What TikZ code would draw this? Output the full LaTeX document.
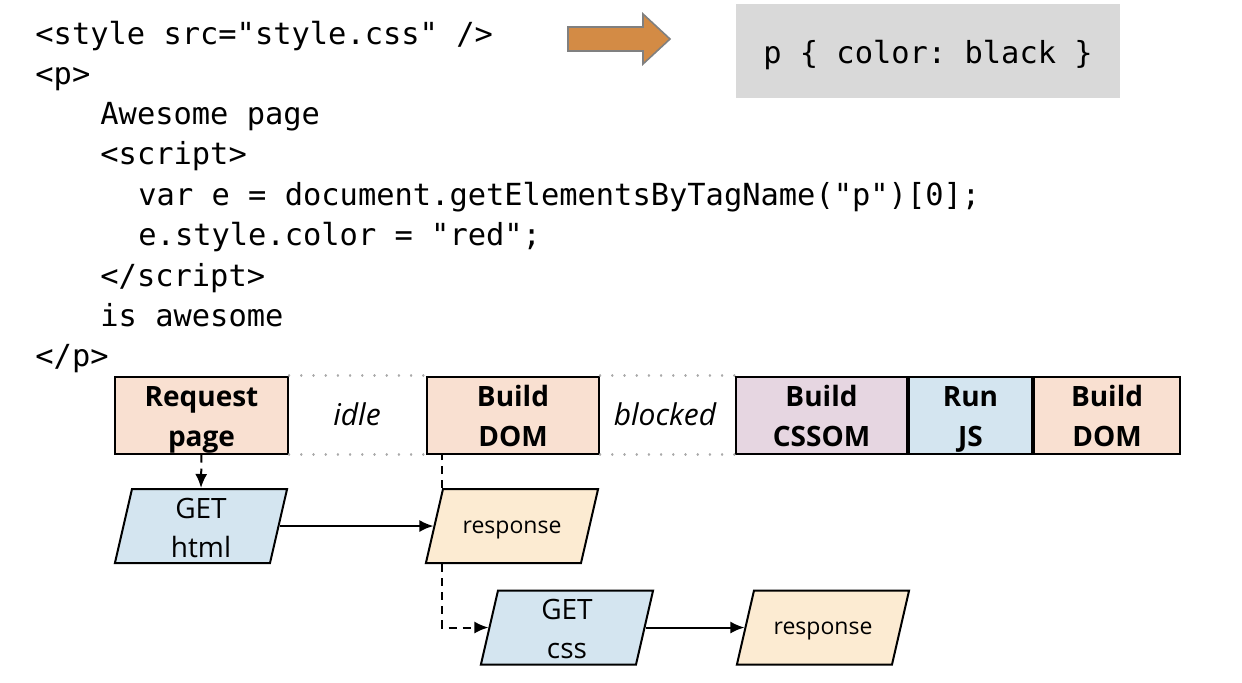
\documentclass[tikz,border=0pt]{standalone}
\usepackage{fontspec}
\setmainfont{Open Sans}
\setmonofont{DejaVu Sans Mono}
\usetikzlibrary{arrows.meta, shapes.geometric, positioning}

\definecolor{peach}{HTML}{F9E0D1}
\definecolor{lavender}{HTML}{E6D6E1}
\definecolor{skyblue}{HTML}{D4E5F0}
\definecolor{tan}{HTML}{FCEBD2}
\definecolor{arrowfill}{HTML}{D38B45}
\definecolor{panelgray}{HTML}{D9D9D9}
\definecolor{dotgray}{HTML}{AAAAAA}

% two lines of a box, on fixed baselines
\newcommand\twoln[2]{\rule{0pt}{15pt}#1\\#2\rule[-3.5pt]{0pt}{3.5pt}}
\newcommand\reqln[2]{\rule{0pt}{14.5pt}#1\\#2\rule[-3pt]{0pt}{3pt}}

\tikzset{
  code/.style={font=\ttfamily\fontsize{15.2pt}{20pt}\selectfont, inner sep=0pt, anchor=base west},
  phase/.style={draw, line width=1pt, minimum height=37pt, inner sep=0pt, align=center,
                font=\bfseries\fontsize{14pt}{20pt}\selectfont},
  gap/.style={font=\itshape\fontsize{15pt}{18pt}\selectfont},
  req/.style={trapezium, trapezium left angle=77, trapezium right angle=103,
              draw, line width=1pt, inner xsep=4.5pt, inner ysep=0pt,
              text width=60pt, align=center},
  reqtwo/.style={req, fill=skyblue, font=\fontsize{14pt}{19.5pt}\selectfont},
  reqone/.style={req, fill=tan, text height=22pt, text depth=15pt, font=\fontsize{11.5pt}{14pt}\selectfont},
  dashline/.style={line width=1pt, dash pattern=on 4pt off 3pt},
  dotline/.style={dotgray, line width=1.2pt, dash pattern=on 0.1pt off 6pt, line cap=round},
  tip/.style={-{Latex[length=7pt,width=6pt]}}
}

\begin{document}
\begin{tikzpicture}[x=0.5pt,y=-0.5pt]
  \useasboundingbox (0,0) rectangle (1242,682);
  % source of the page
  \node[code] (l1) at (35,44) {<style src="style.css" />};
  \node[code] (l2) at (35,84) {<p>};
  \node[code] (l3) at (100,124) {Awesome page};
  \node[code] (l4) at (100,164) {<script>};
  \node[code] (l5) at (138,205) {var e = document.getElementsByTagName("p")[0];};
  \node[code] (l6) at (138,245) {e.style.color = "red";};
  \node[code] (l7) at (100,286) {</script>};
  \node[code] (l8) at (100,326) {is awesome};
  \node[code] (l9) at (35,366) {</p>};

  % the stylesheet
  \draw[fill=arrowfill, draw=gray, line width=0.8pt]
    (568,27) -- (643,27) -- (643,14) -- (670,39) -- (643,64) -- (643,51) -- (568,51) -- cycle;
  \node[fill=panelgray, minimum width=192pt, minimum height=47pt, text height=12.9pt, text depth=0pt,
        font=\ttfamily\fontsize{15.2pt}{20pt}\selectfont] (cssrule) at (928,51) {p \{ color: black \}};

  % main thread
  \node[phase, fill=peach, minimum width=86.5pt] (reqpage) at (201.5,415) {\twoln{Request}{page}};
  \node[phase, fill=peach, minimum width=86pt] (builddom) at (513,415) {\twoln{Build}{DOM}};
  \node[phase, fill=lavender, minimum width=85.5pt] (cssom) at (821.5,415) {\twoln{Build}{CSSOM}};
  \node[phase, fill=skyblue, minimum width=61.5pt, right=0pt of cssom] (runjs) {\twoln{Run}{JS}};
  \node[phase, fill=peach, minimum width=73pt, right=0pt of runjs] (builddom2) {\twoln{Build}{DOM}};
  \node[gap] (idle) at (357,414) {idle};
  \node[gap] (blocked) at (665,414) {blocked};
  \draw[dotline] (reqpage.north east) -- (builddom.north west);
  \draw[dotline] (reqpage.south east) -- (builddom.south west);
  \draw[dotline] (builddom.north east) -- (cssom.north west);
  \draw[dotline] (builddom.south east) -- (cssom.south west);

  % network
  \node[reqtwo] (gethtml) at (201,526) {\reqln{GET}{html}};
  \node[reqone] (resp1) at (512,526) {response};
  \node[reqtwo] (getcss) at (567,627.5) {\reqln{GET}{css}};
  \node[reqone] (resp2) at (823,627.5) {response};

  \draw[dashline, tip] (reqpage.south) -- (gethtml.north);
  \draw[line width=1pt, tip] (gethtml.east) -- (resp1.west);
  \draw[dashline] (resp1.top left corner) -- (resp1.top left corner |- builddom.south);
  \draw[dashline, tip] (resp1.top left corner |- resp1.south) |- (getcss.west);
  \draw[line width=1pt, tip] (getcss.east) -- (resp2.west);
\end{tikzpicture}
\end{document}
